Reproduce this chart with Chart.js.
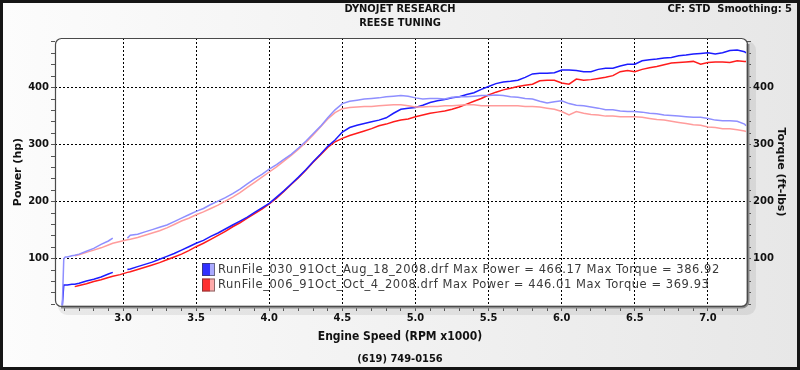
<!DOCTYPE html>
<html><head><meta charset="utf-8">
<script src="https://cdn.jsdelivr.net/npm/chart.js@4/dist/chart.umd.min.js"></script>
<style>html,body{margin:0;padding:0;background:#fff}canvas{display:block}</style>
</head><body>
<canvas id="c" width="800" height="370"></canvas>
<script>
// ---- data (engine speed in RPM x1000) ----
const rpm = [2.585,2.595,2.605,2.62,2.65,2.67,2.70,2.75,2.80,2.85,2.90,2.93,2.98,3.03,3.05,
3.10,3.15,3.20,3.25,3.30,3.35,3.40,3.45,3.50,3.55,3.60,3.65,3.70,3.75,3.80,3.85,3.90,3.95,
4.00,4.05,4.10,4.15,4.20,4.25,4.30,4.35,4.40,4.45,4.50,4.55,4.60,4.65,4.70,4.75,4.80,4.85,4.90,4.95,
5.00,5.05,5.10,5.15,5.20,5.25,5.30,5.35,5.40,5.45,5.50,5.55,5.60,5.65,5.70,5.75,5.80,5.85,5.90,5.95,
6.00,6.05,6.10,6.15,6.20,6.25,6.30,6.35,6.40,6.45,6.50,6.55,6.60,6.65,6.70,6.75,6.80,6.85,6.90,6.95,
7.00,7.05,7.10,7.15,7.20,7.25,7.26];

const powerRun030 = [18,54,54,54,55,55,57,61,64,68,73,76,null,81,82,
86,90,94,99,104,109,115,121,127,132,139,145,152,159,166,173,181,189,
197,208,219,231,243,256,270,283,297,308,322,330,334,337,340,343,347,355,362,364,
365,369,374,377,379,382,384,388,391,397,402,407,410,411,413,418,424,425,425,426,
431,431,430,428,428,432,434,434,438,441,441,447,449,450,452,453,456,457,459,460,
461,459,461,465,466,463,461];

const powerRun006 = [null,null,null,null,null,51,53,56,60,63,67,69,72,76,77,
81,85,89,93,98,103,108,114,121,127,134,141,148,156,163,171,179,187,
196,206,218,230,242,255,269,282,295,305,311,316,320,324,328,333,336,340,343,345,
349,352,355,357,359,362,366,371,376,381,387,392,396,399,402,404,406,412,413,413,
408,406,415,413,414,416,418,421,428,430,428,432,435,437,440,443,444,445,446,441,
444,445,445,444,447,446,446];

const torqueRun030 = [18,100,103,103,105,106,108,113,118,125,131,136,null,136,141,
143,147,151,155,159,165,171,177,183,188,195,201,207,214,222,231,240,248,
257,265,274,283,294,306,319,332,347,361,372,376,378,380,381,382,384,385,386,385,
382,380,381,381,380,383,384,384,385,386,386,387,386,384,383,381,380,376,373,375,
377,372,369,368,366,364,361,361,359,358,358,357,355,354,352,351,350,349,348,348,
346,343,342,342,341,336,333];

const torqueRun006 = [null,null,null,null,null,105,107,111,115,119,124,127,130,133,134,
137,141,145,149,154,160,166,171,177,182,188,194,201,208,216,225,234,243,
252,261,271,281,292,304,317,331,345,356,363,365,366,367,367,368,369,370,370,368,
366,366,367,367,368,368,369,370,370,368,368,368,368,368,368,367,367,366,364,362,
358,352,358,355,353,352,350,350,349,349,349,348,346,344,343,341,339,337,335,334,
331,330,328,328,326,324,323];

const legendLabels = [
  "RunFile_030_91Oct_Aug_18_2008.drf Max Power = 466.17 Max Torque = 386.92",
  "RunFile_006_91Oct_Oct_4_2008.drf Max Power = 446.01 Max Torque = 369.93"
];
const titleLines = ["DYNOJET RESEARCH", "REESE TUNING"];
const cornerText = "CF: STD  Smoothing: 5";
const xAxisTitle = "Engine Speed (RPM x1000)";
const footerText = "(619) 749-0156";
const leftAxisTitle = "Power (hp)";
const rightAxisTitle = "Torque (ft-lbs)";
const xMajorTicks = [3.0,3.5,4.0,4.5,5.0,5.5,6.0,6.5,7.0];
const yMajorTicks = [100,200,300,400];

// ---- helpers ----
const COND = "'DejaVu Sans Condensed','Liberation Sans Narrow',sans-serif";
const pts = arr => rpm.map((r,i) => ({x:r, y:arr[i]}));
const isMajorX = v => xMajorTicks.some(t => Math.abs(t - v) < 1e-6);
const isMajorY = v => yMajorTicks.indexOf(v) >= 0;

function rr(ctx, x, y, w, h, r){
  ctx.beginPath();
  ctx.moveTo(x+r, y);
  ctx.lineTo(x+w-r, y); ctx.arcTo(x+w, y, x+w, y+r, r);
  ctx.lineTo(x+w, y+h-r); ctx.arcTo(x+w, y+h, x+w-r, y+h, r);
  ctx.lineTo(x+r, y+h); ctx.arcTo(x, y+h, x, y+h-r, r);
  ctx.lineTo(x, y+r); ctx.arcTo(x, y, x+r, y, r);
  ctx.closePath();
}

const decor = {
  id: 'decor',
  beforeDraw(chart){
    const {ctx, chartArea:a, width, height} = chart;
    ctx.save();
    const g = ctx.createLinearGradient(0, 0, width, 0);
    g.addColorStop(0, '#fcfcfc'); g.addColorStop(1, '#e7e7e7');
    ctx.fillStyle = g; ctx.fillRect(0, 0, width, height);
    ctx.fillStyle = 'rgba(0,0,0,0.07)';
    rr(ctx, a.left+3, a.top+3, a.right-a.left+6, a.bottom-a.top+6, 9); ctx.fill();
    ctx.fillStyle = '#ffffff';
    rr(ctx, a.left, a.top, a.right-a.left, a.bottom-a.top, 6); ctx.fill();
    ctx.restore();
  },
  afterDraw(chart){
    const {ctx, chartArea:a, width, height} = chart;
    ctx.save();
    // plot frame
    ctx.strokeStyle = '#8c8c8c'; ctx.lineWidth = 3;
    ctx.beginPath();
    ctx.moveTo(a.right+1, a.top+6);
    ctx.lineTo(a.right+1, a.bottom-5);
    ctx.arcTo(a.right+1, a.bottom+1, a.right-5, a.bottom+1, 6);
    ctx.lineTo(a.left+6, a.bottom+1);
    ctx.stroke();
    ctx.strokeStyle = '#4a4a4a'; ctx.lineWidth = 1.2;
    rr(ctx, a.left+0.5, a.top+0.5, a.right-a.left, a.bottom-a.top, 6); ctx.stroke();
    // outer border
    ctx.strokeStyle = '#151515'; ctx.lineWidth = 3;
    ctx.strokeRect(1.5, 1.5, width-3, height-3);

    // texts
    ctx.fillStyle = '#111';
    ctx.textBaseline = 'middle';
    ctx.font = "bold 11px " + COND;
    ctx.textAlign = 'center';
    ctx.fillText(titleLines[0], 400, 9);
    ctx.fillText(titleLines[1], 400, 23);
    ctx.textAlign = 'right';
    ctx.fillText(cornerText, 792, 9);
    ctx.textAlign = 'center';
    ctx.font = "bold 12px " + COND;
    ctx.fillText(xAxisTitle, 400, 337);
    ctx.font = "bold 11px " + COND;
    ctx.fillText(footerText, 400, 359);

    ctx.font = "bold 11px 'DejaVu Sans',sans-serif";
    ctx.save(); ctx.translate(18, 172); ctx.rotate(-Math.PI/2);
    ctx.fillText(leftAxisTitle, 0, 0); ctx.restore();
    ctx.save(); ctx.translate(781, 172); ctx.rotate(Math.PI/2);
    ctx.fillText(rightAxisTitle, 0, 0); ctx.restore();

    // legend
    const dark = ['#3030ff', '#ff3030'];
    const light = ['#aaaaff', '#ffaaaa'];
    ctx.textAlign = 'left';
    ctx.font = "11.5px 'DejaVu Sans',sans-serif";
    if ('letterSpacing' in ctx) ctx.letterSpacing = '0.55px';
    legendLabels.forEach((t, i) => {
      const y = 263 + i*15.5;
      ctx.fillStyle = dark[i]; ctx.fillRect(202, y, 8, 13);
      ctx.fillStyle = light[i]; ctx.fillRect(210, y, 5, 13);
      ctx.strokeStyle = 'rgba(60,60,60,0.6)'; ctx.lineWidth = 1;
      ctx.strokeRect(202.5, y+0.5, 12, 12);
      ctx.fillStyle = '#3a3a3a';
      ctx.fillText(t, 218, y + 7);
    });
    ctx.restore();
  }
};

const yAxis = (pos, width) => ({
  type: 'linear', position: pos, min: 17, max: 487,
  afterBuildTicks: s => { const t = []; for (let v = 20; v <= 480; v += 20) t.push({value: v}); s.ticks = t; },
  afterFit: s => { s.width = width; },
  ticks: {
    autoSkip: false, padding: 2, color: '#111',
    font: {family: "'DejaVu Sans',sans-serif", weight: 'bold', size: 10},
    callback: v => isMajorY(v) ? String(v) : ''
  },
  grid: {
    drawOnChartArea: pos === 'left',
    color: c => (c.tick && isMajorY(c.tick.value)) ? '#000' : 'rgba(0,0,0,0)',
    tickColor: '#555', tickLength: 4, lineWidth: 1
  },
  border: {display: false, dash: [2, 2]}
});

new Chart(document.getElementById('c'), {
  type: 'line',
  data: {
    datasets: [
      {label: 'Torque 030', data: pts(torqueRun030), borderColor: '#8f8fff', yAxisID: 'y2'},
      {label: 'Torque 006', data: pts(torqueRun006), borderColor: '#ff9c9c', yAxisID: 'y2'},
      {label: 'Power 030', data: pts(powerRun030), borderColor: '#1c1cff', yAxisID: 'y'},
      {label: 'Power 006', data: pts(powerRun006), borderColor: '#ff1c1c', yAxisID: 'y'}
    ]
  },
  options: {
    responsive: false, animation: false, devicePixelRatio: 1,
    layout: {padding: {top: 38, left: 0, right: 0, bottom: 0}},
    elements: {point: {radius: 0}, line: {borderWidth: 1.5, tension: 0}},
    spanGaps: false,
    plugins: {legend: {display: false}, title: {display: false}, tooltip: {enabled: false}},
    scales: {
      x: {
        type: 'linear', min: 2.535, max: 7.267,
        afterBuildTicks: s => { const t = []; for (let k = 26; k <= 72; k++) t.push({value: k/10}); s.ticks = t; },
        afterFit: s => { s.height = 64; },
        ticks: {
          autoSkip: false, maxRotation: 0, padding: 1, color: '#111',
          font: {family: COND, weight: 'bold', size: 11},
          callback: v => isMajorX(v) ? v.toFixed(1) : ''
        },
        grid: {
          color: c => (c.tick && isMajorX(c.tick.value)) ? '#000' : 'rgba(0,0,0,0)',
          tickColor: '#555', tickLength: 5, lineWidth: 1
        },
        border: {display: false, dash: [2, 2]}
      },
      y: yAxis('left', 55),
      y2: yAxis('right', 53)
    }
  },
  plugins: [decor]
});
</script>
</body></html>
